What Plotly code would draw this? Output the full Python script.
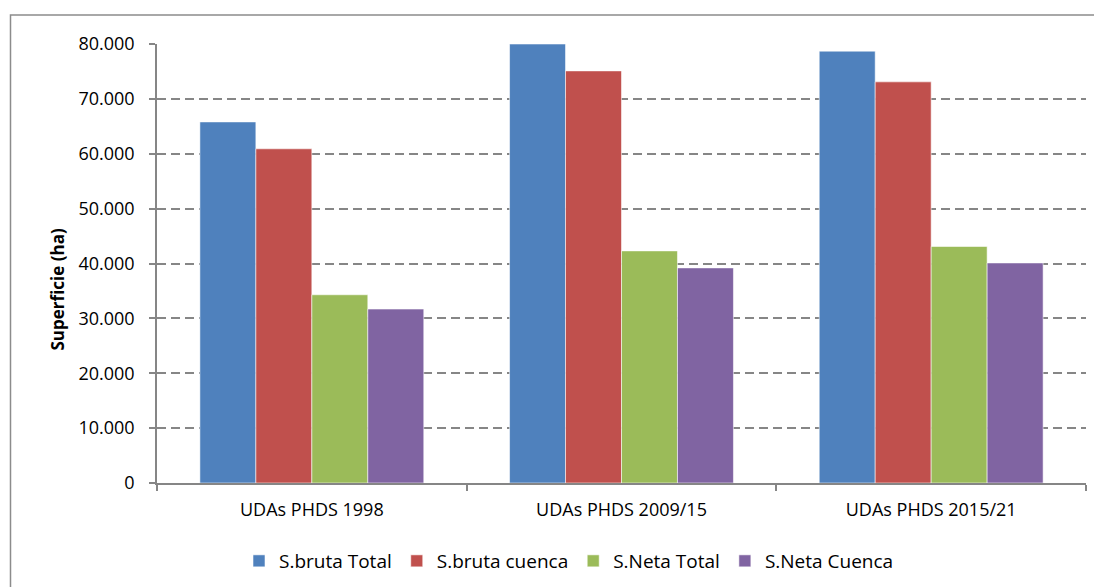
import plotly.graph_objects as go

# Superficie de las UDAs por plan hidrológico (ha)
categories = ["UDAs PHDS 1998", "UDAs PHDS 2009/15", "UDAs PHDS 2015/21"]
series_names = ["S.bruta Total", "S.bruta cuenca", "S.Neta Total", "S.Neta Cuenca"]
s_bruta_total = [65800, 80000, 78700]
s_bruta_cuenca = [60900, 75100, 73100]
s_neta_total = [34300, 42300, 43100]
s_neta_cuenca = [31700, 39200, 40100]
y_ticks = [0, 10000, 20000, 30000, 40000, 50000, 60000, 70000, 80000]

colors = ["#4F81BD", "#C0504D", "#9BBB59", "#8064A2"]
series_values = [s_bruta_total, s_bruta_cuenca, s_neta_total, s_neta_cuenca]

FONT = "Open Sans, Liberation Sans, sans-serif"
OFF = 8  # page body margin of the html page
W, H = 1102, 587
L, R, T, B = 149, 24, 36, 112
plot_w = W - L - R
plot_h = H - T - B


def px_x(px):
    # screen pixel -> paper x
    return (px - OFF - L) / plot_w


def px_y(py):
    # screen pixel -> paper y
    return (H - B - (py - OFF)) / plot_h


fig = go.Figure()
for name, vals, color in zip(series_names, series_values, colors):
    fig.add_trace(
        go.Bar(
            x=categories,
            y=vals,
            name=name,
            marker=dict(color=color, line=dict(color="rgba(255,255,255,0.55)", width=1)),
        )
    )

# outer chart frame
fig.add_shape(
    type="rect",
    xref="paper",
    yref="paper",
    x0=px_x(10.5),
    x1=px_x(1130),
    y0=px_y(620),
    y1=px_y(15),
    line=dict(color="#8c8c8c", width=1.5),
    fillcolor="rgba(0,0,0,0)",
    layer="below",
)

fig.add_annotation(
    text="<b>Superficie (ha)</b>",
    xref="paper",
    yref="paper",
    x=px_x(43),
    y=px_y(290),
    textangle=-90,
    showarrow=False,
    font=dict(family=FONT, size=17, color="#000000"),
)

fig.update_xaxes(
    showline=True,
    linecolor="#868686",
    linewidth=1.5,
    ticks="outside",
    tickson="boundaries",
    ticklen=6,
    tickcolor="#868686",
    tickwidth=1.5,
    showgrid=False,
    ticklabelstandoff=10,
    tickfont=dict(family=FONT, size=18, color="#000000"),
)
fig.update_yaxes(
    range=[0, 80000],
    tickvals=y_ticks,
    tickformat=",d",
    showline=True,
    linecolor="#868686",
    linewidth=1.5,
    ticks="outside",
    ticklen=6,
    tickcolor="#868686",
    tickwidth=1.5,
    showgrid=True,
    gridcolor="#868686",
    gridwidth=1.5,
    griddash="9px,5px",
    zeroline=False,
    ticklabelstandoff=11,
    tickfont=dict(family=FONT, size=18, color="#000000"),
)

fig.update_layout(
    width=W,
    height=H,
    margin=dict(l=L, r=R, t=T, b=B),
    barmode="group",
    bargap=0.277,
    bargroupgap=0,
    separators=",.",
    paper_bgcolor="white",
    plot_bgcolor="white",
    font=dict(family=FONT, size=18, color="#000000"),
    showlegend=True,
    legend=dict(
        orientation="h",
        x=px_x(239),
        xanchor="left",
        y=px_y(561),
        yanchor="middle",
        font=dict(family=FONT, size=19, color="#000000"),
        itemwidth=30,
        traceorder="normal",
    ),
)

fig.write_html("out.html")
